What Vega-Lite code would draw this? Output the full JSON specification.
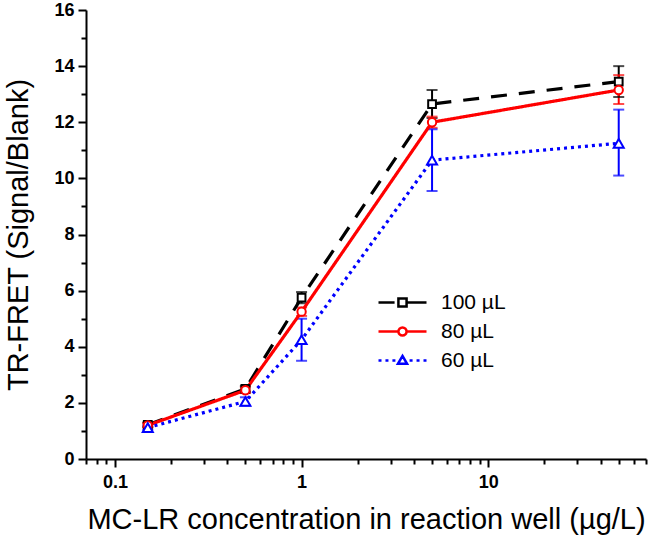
{
  "$schema": "https://vega.github.io/schema/vega-lite/v6.json",
  "width": 560,
  "height": 449,
  "autosize": {"type": "none"},
  "padding": {"left": 86, "top": 10, "right": 6, "bottom": 78},
  "background": "white",
  "config": {
    "view": {"stroke": null},
    "font": "Liberation Sans",
    "axis": {
      "grid": false,
      "domainColor": "black",
      "domainWidth": 2,
      "tickColor": "black",
      "tickWidth": 2,
      "tickSize": 8,
      "labelFont": "Liberation Sans",
      "labelFontWeight": "bold",
      "labelFontSize": 18,
      "labelColor": "black",
      "titleFont": "Liberation Sans",
      "titleFontWeight": "normal",
      "titleFontSize": 29,
      "titleColor": "black"
    }
  },
  "data": {
    "values": [
      {"conc": 0.15, "series": "100 µL", "value": 1.22, "lo": 1.14, "hi": 1.30},
      {"conc": 0.5, "series": "100 µL", "value": 2.5, "lo": 2.4, "hi": 2.6},
      {"conc": 1, "series": "100 µL", "value": 5.75, "lo": 5.55, "hi": 5.95},
      {"conc": 5, "series": "100 µL", "value": 12.65, "lo": 12.15, "hi": 13.15},
      {"conc": 50, "series": "100 µL", "value": 13.45, "lo": 12.9, "hi": 14.0},
      {"conc": 0.15, "series": "80 µL", "value": 1.2, "lo": 1.12, "hi": 1.28},
      {"conc": 0.5, "series": "80 µL", "value": 2.45, "lo": 2.35, "hi": 2.55},
      {"conc": 1, "series": "80 µL", "value": 5.25, "lo": 5.1, "hi": 5.4},
      {"conc": 5, "series": "80 µL", "value": 12.0, "lo": 11.8, "hi": 12.2},
      {"conc": 50, "series": "80 µL", "value": 13.15, "lo": 12.65, "hi": 13.68},
      {"conc": 0.15, "series": "60 µL", "value": 1.12, "lo": 1.04, "hi": 1.2},
      {"conc": 0.5, "series": "60 µL", "value": 2.05, "lo": 1.9, "hi": 2.2},
      {"conc": 1, "series": "60 µL", "value": 4.25, "lo": 3.5, "hi": 5.0},
      {"conc": 5, "series": "60 µL", "value": 10.65, "lo": 9.55, "hi": 11.75},
      {"conc": 50, "series": "60 µL", "value": 11.25, "lo": 10.1, "hi": 12.45}
    ]
  },
  "layer": [
    {
      "mark": {"type": "rule", "strokeWidth": 2},
      "encoding": {
        "x": {"field": "conc", "type": "quantitative", "scale": {"type": "log", "domain": [0.07, 70], "nice": false}, "axis": null},
        "y": {"field": "lo", "type": "quantitative", "scale": {"domain": [0, 16], "nice": false}, "axis": null},
        "y2": {"field": "hi"},
        "stroke": {"field": "series", "type": "nominal", "scale": {"domain": ["60 µL", "80 µL", "100 µL"], "range": ["#0000ff", "#ff0000", "#000000"]}, "legend": null}
      }
    },
    {
      "mark": {"type": "tick", "orient": "horizontal", "size": 11, "thickness": 2},
      "encoding": {
        "x": {"field": "conc", "type": "quantitative", "axis": null},
        "y": {"field": "lo", "type": "quantitative", "axis": null},
        "fill": {"field": "series", "type": "nominal", "scale": {"domain": ["60 µL", "80 µL", "100 µL"], "range": ["#0000ff", "#ff0000", "#000000"]}, "legend": null}
      }
    },
    {
      "mark": {"type": "tick", "orient": "horizontal", "size": 11, "thickness": 2},
      "encoding": {
        "x": {"field": "conc", "type": "quantitative", "axis": null},
        "y": {"field": "hi", "type": "quantitative", "axis": null},
        "fill": {"field": "series", "type": "nominal", "legend": null}
      }
    },
    {
      "mark": {"type": "line", "strokeWidth": 3.2},
      "encoding": {
        "x": {"field": "conc", "type": "quantitative",
          "axis": {"orient": "bottom", "values": [0.1, 1, 10], "format": "~g", "title": "MC-LR concentration in reaction well (µg/L)", "labelPadding": 6, "titlePadding": 14}},
        "y": {"field": "value", "type": "quantitative",
          "axis": {"orient": "left", "values": [0, 2, 4, 6, 8, 10, 12, 14, 16], "title": "TR-FRET (Signal/Blank)", "labelPadding": 4, "titlePadding": 20}},
        "stroke": {"field": "series", "type": "nominal", "legend": null},
        "strokeDash": {"field": "series", "type": "nominal", "scale": {"domain": ["60 µL", "80 µL", "100 µL"], "range": [[3, 4], [1, 0], [16, 12]]}, "legend": null}
      }
    },
    {
      "transform": [{"filter": "datum.series === '100 µL'"}],
      "mark": {"type": "point", "shape": "square", "size": 60, "filled": false, "fill": "white", "stroke": "#000000", "strokeWidth": 2, "opacity": 1},
      "encoding": {
        "x": {"field": "conc", "type": "quantitative",
          "axis": {"orient": "bottom", "values": [0.07, 0.08, 0.09, 0.2, 0.3, 0.4, 0.5, 0.6, 0.7, 0.8, 0.9, 2, 3, 4, 5, 6, 7, 8, 9, 20, 30, 40, 50, 60, 70], "labels": false, "domain": false, "tickSize": 5, "title": null}},
        "y": {"field": "value", "type": "quantitative",
          "axis": {"orient": "left", "values": [1, 3, 5, 7, 9, 11, 13, 15], "labels": false, "domain": false, "tickSize": 5, "title": null}}
      }
    },
    {
      "transform": [{"filter": "datum.series === '80 µL'"}],
      "mark": {"type": "point", "shape": "circle", "size": 70, "filled": false, "fill": "white", "stroke": "#ff0000", "strokeWidth": 2, "opacity": 1},
      "encoding": {
        "x": {"field": "conc", "type": "quantitative", "axis": null},
        "y": {"field": "value", "type": "quantitative", "axis": null}
      }
    },
    {
      "transform": [{"filter": "datum.series === '60 µL'"}],
      "mark": {"type": "point", "shape": "triangle-up", "size": 100, "filled": false, "fill": "white", "stroke": "#0000ff", "strokeWidth": 2, "opacity": 1},
      "encoding": {
        "x": {"field": "conc", "type": "quantitative", "axis": null},
        "y": {"field": "value", "type": "quantitative", "axis": null}
      }
    },
    {
      "mark": {"type": "point", "size": 0, "filled": false, "fill": "white", "strokeWidth": 2.5, "opacity": 1},
      "encoding": {
        "x": {"field": "conc", "type": "quantitative", "axis": null},
        "y": {"field": "value", "type": "quantitative", "axis": null},
        "color": {"field": "series", "type": "nominal",
          "scale": {"domain": ["100 µL", "80 µL", "60 µL"], "range": ["#000000", "#ff0000", "#0000ff"]},
          "legend": {
            "title": null,
            "orient": "none",
            "legendX": 303,
            "legendY": 279,
            "padding": 0,
            "symbolSize": 576,
            "symbolStrokeWidth": 2.5,
            "symbolOpacity": 1,
            "labelFont": "Liberation Sans",
            "labelFontSize": 21,
            "labelColor": "black",
            "labelOffset": 25,
            "rowPadding": 5
          }
        },
        "shape": {"field": "series", "type": "nominal",
          "scale": {"domain": ["100 µL", "80 µL", "60 µL"],
            "range": [
              "M-2,0H-0.66M-0.34,-0.34H0.34V0.34H-0.34ZM0.34,0H2",
              "M-2,0H-0.34M0.34,0H2M-0.34,0A0.34,0.34,0,1,1,0.34,0A0.34,0.34,0,1,1,-0.34,0Z",
              "M-2,0H-1.75M-1.42,0H-1.17M-0.84,0H-0.59M0,-0.38L0.38,0.28H-0.38ZM0.59,0H0.84M1.17,0H1.42M1.75,0H2"
            ]}
        }
      }
    }
  ],
  "resolve": {"axis": {"x": "independent", "y": "independent"}}
}
